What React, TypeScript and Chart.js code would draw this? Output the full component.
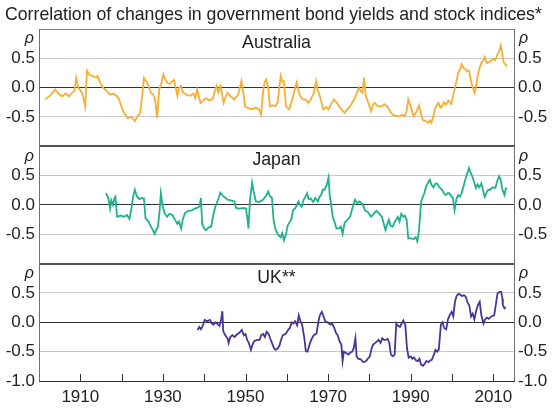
import React, { useEffect, useRef } from 'react';
import { Chart, registerables } from 'chart.js';

Chart.register(...registerables);

const TITLE = 'Correlation of changes in government bond yields and stock indices*';
const PANEL_NAMES = ['Australia', 'Japan', 'UK**'];
const X_LABEL_YEARS = [1910, 1930, 1950, 1970, 1990, 2010];
const X_TICK_YEARS = [1910, 1920, 1930, 1940, 1950, 1960, 1970, 1980, 1990, 2000, 2010];
const Y_TICKS = [-1, -0.5, 0, 0.5, 1];
const COLORS = ['#F9AE32', '#1DB28D', '#4A3595'];

const ausYears = [1901.5, 1902.6, 1903.9, 1904.7, 1905.6, 1906.5, 1907.3, 1907.7, 1908.6, 1909.0, 1909.5, 1909.9, 1910.5, 1911.2, 1911.6, 1912.2, 1912.9, 1913.8, 1914.2, 1914.8, 1915.5, 1916.3, 1917.2, 1918.1, 1918.9, 1919.4, 1920.2, 1920.8, 1921.5, 1922.4, 1923.2, 1923.9, 1924.5, 1924.9, 1925.4, 1925.8, 1926.2, 1927.1, 1927.7, 1928.1, 1928.6, 1929.1, 1929.7, 1930.1, 1930.5, 1931.0, 1931.6, 1932.3, 1932.7, 1933.1, 1933.5, 1933.9, 1934.4, 1934.8, 1935.7, 1936.6, 1937.4, 1937.8, 1938.3, 1938.7, 1939.1, 1939.7, 1940.4, 1941.3, 1942.1, 1942.6, 1943.0, 1943.4, 1943.9, 1944.3, 1944.7, 1945.2, 1945.6, 1946.4, 1947.3, 1948.2, 1949.0, 1949.5, 1949.9, 1950.7, 1951.6, 1952.5, 1953.3, 1953.8, 1954.2, 1954.6, 1955.0, 1955.5, 1955.9, 1956.6, 1957.2, 1957.8, 1958.5, 1958.9, 1959.3, 1959.8, 1960.6, 1961.5, 1962.4, 1962.8, 1963.2, 1963.8, 1964.5, 1965.2, 1965.8, 1966.5, 1967.1, 1967.5, 1967.9, 1968.8, 1969.5, 1970.1, 1970.7, 1971.4, 1972.1, 1972.7, 1973.3, 1974.0, 1974.6, 1975.3, 1975.9, 1976.5, 1977.0, 1977.4, 1977.8, 1978.3, 1978.7, 1979.1, 1979.7, 1980.4, 1980.8, 1981.3, 1982.1, 1983.0, 1983.6, 1984.3, 1985.0, 1985.6, 1986.4, 1987.3, 1987.9, 1988.6, 1989.0, 1989.4, 1989.9, 1990.7, 1991.3, 1992.0, 1992.5, 1992.9, 1993.6, 1994.2, 1994.6, 1995.0, 1995.5, 1995.9, 1996.3, 1996.7, 1997.2, 1997.6, 1998.0, 1998.5, 1999.1, 1999.8, 2000.2, 2000.6, 2001.1, 2001.5, 2001.9, 2002.3, 2002.7, 2003.2, 2003.6, 2004.1, 2004.5, 2004.9, 2005.5, 2006.0, 2006.2, 2006.6, 2007.1, 2007.5, 2007.9, 2008.4, 2008.8, 2009.4, 2010.1, 2010.5, 2010.9, 2011.4, 2011.8, 2012.1, 2012.5, 2012.9, 2013.3];
const ausValues = [-0.20, -0.14, -0.03, -0.10, -0.15, -0.10, -0.15, -0.11, -0.05, 0.17, 0.0, -0.03, -0.10, -0.32, 0.29, 0.22, 0.20, 0.17, 0.20, 0.08, 0.0, -0.05, -0.12, -0.10, -0.15, -0.20, -0.37, -0.45, -0.52, -0.50, -0.57, -0.48, -0.43, -0.20, 0.17, 0.12, 0.09, -0.09, -0.12, -0.20, -0.52, -0.03, 0.10, 0.23, 0.15, 0.09, 0.06, 0.11, 0.13, 0.0, -0.14, 0.0, 0.03, -0.08, -0.12, -0.14, -0.10, -0.18, -0.03, -0.15, -0.26, -0.22, -0.18, -0.22, -0.18, -0.05, 0.03, -0.08, 0.03, -0.10, -0.26, -0.15, -0.09, -0.15, -0.20, -0.12, 0.11, -0.10, -0.32, -0.35, -0.37, -0.34, -0.37, -0.46, -0.10, 0.09, 0.14, 0.0, -0.32, -0.30, -0.32, -0.25, 0.20, 0.10, 0.11, -0.32, -0.37, -0.15, 0.09, -0.05, -0.14, -0.20, -0.20, -0.26, -0.20, -0.10, 0.11, -0.05, -0.12, -0.37, -0.33, -0.37, -0.28, -0.20, -0.26, -0.32, -0.38, -0.43, -0.37, -0.32, -0.25, -0.17, -0.08, 0.0, -0.05, -0.09, 0.17, -0.14, -0.25, -0.40, -0.30, -0.26, -0.32, -0.32, -0.28, -0.32, -0.40, -0.46, -0.48, -0.49, -0.46, -0.48, -0.40, -0.20, -0.30, -0.49, -0.42, -0.30, -0.45, -0.55, -0.57, -0.60, -0.56, -0.60, -0.48, -0.35, -0.30, -0.26, -0.34, -0.32, -0.25, -0.29, -0.22, -0.28, -0.15, -0.03, 0.12, 0.26, 0.30, 0.40, 0.34, 0.32, 0.28, 0.29, 0.15, 0.03, -0.09, 0.10, 0.20, 0.32, 0.43, 0.45, 0.52, 0.42, 0.43, 0.46, 0.49, 0.47, 0.55, 0.62, 0.72, 0.60, 0.43, 0.40, 0.36];

const jpnYears = [1916.2, 1916.6, 1916.9, 1917.2, 1917.5, 1917.9, 1918.2, 1918.5, 1918.9, 1919.8, 1920.6, 1921.3, 1921.9, 1922.4, 1922.8, 1923.2, 1923.7, 1924.3, 1924.9, 1925.4, 1925.8, 1926.5, 1927.1, 1927.5, 1928.0, 1928.4, 1928.8, 1929.2, 1929.5, 1929.9, 1930.4, 1931.0, 1931.6, 1932.3, 1932.9, 1933.5, 1933.9, 1934.4, 1934.8, 1935.3, 1936.1, 1937.0, 1937.7, 1938.3, 1938.9, 1939.2, 1939.5, 1940.0, 1940.4, 1941.1, 1941.7, 1942.1, 1942.6, 1943.0, 1943.5, 1943.9, 1944.6, 1945.2, 1945.6, 1946.4, 1947.3, 1947.7, 1948.6, 1949.5, 1950.1, 1950.5, 1950.7, 1951.1, 1951.6, 1951.9, 1952.5, 1953.3, 1954.2, 1954.9, 1955.5, 1955.9, 1956.4, 1956.8, 1957.2, 1957.8, 1958.5, 1958.9, 1959.3, 1959.8, 1960.2, 1960.6, 1961.1, 1961.5, 1962.1, 1962.8, 1963.2, 1963.6, 1964.0, 1964.5, 1964.9, 1965.3, 1965.8, 1966.4, 1966.9, 1967.5, 1967.9, 1968.3, 1968.7, 1969.1, 1969.7, 1970.1, 1970.4, 1970.7, 1971.1, 1971.6, 1972.0, 1972.7, 1973.1, 1973.5, 1974.0, 1974.6, 1975.3, 1975.7, 1976.1, 1976.5, 1977.0, 1977.6, 1978.3, 1979.0, 1979.6, 1980.4, 1981.0, 1981.7, 1982.4, 1983.0, 1983.4, 1983.9, 1984.3, 1984.7, 1985.1, 1985.6, 1986.2, 1986.9, 1987.3, 1987.7, 1988.2, 1988.6, 1989.0, 1989.4, 1990.1, 1990.7, 1991.2, 1991.6, 1992.0, 1992.5, 1992.9, 1993.3, 1993.7, 1994.2, 1994.6, 1995.0, 1995.5, 1995.9, 1996.3, 1997.0, 1997.6, 1998.0, 1998.5, 1998.9, 1999.3, 1999.8, 2000.2, 2000.6, 2001.1, 2001.5, 2001.9, 2002.3, 2002.7, 2003.2, 2003.6, 2004.1, 2004.5, 2004.9, 2005.4, 2005.8, 2006.2, 2006.6, 2007.1, 2007.5, 2007.9, 2008.4, 2008.8, 2009.2, 2009.8, 2010.5, 2010.9, 2011.4, 2011.8, 2012.2, 2012.7, 2013.0, 2013.3];
const jpnValues = [0.20, 0.15, 0.08, -0.06, 0.08, 0.0, 0.10, 0.14, -0.20, -0.18, -0.20, -0.17, -0.24, -0.05, 0.15, 0.26, 0.15, 0.10, 0.12, 0.11, -0.23, -0.28, -0.37, -0.42, -0.49, -0.42, -0.37, -0.10, 0.20, 0.0, -0.14, -0.20, -0.15, -0.17, -0.25, -0.32, -0.28, -0.40, -0.25, -0.14, -0.10, -0.09, -0.06, -0.05, -0.02, 0.12, -0.32, -0.40, -0.43, -0.38, -0.37, -0.20, -0.05, 0.03, 0.12, 0.21, 0.15, 0.12, 0.09, 0.08, 0.06, -0.05, -0.06, -0.05, -0.06, -0.25, -0.40, 0.10, 0.38, 0.25, 0.06, 0.05, 0.09, 0.15, 0.23, 0.15, 0.12, -0.26, -0.40, -0.50, -0.55, -0.48, -0.60, -0.50, -0.35, -0.30, -0.24, -0.09, -0.05, 0.06, 0.0, -0.03, 0.08, 0.14, 0.20, 0.10, 0.11, 0.05, 0.12, 0.06, 0.14, 0.17, 0.26, 0.26, 0.35, 0.47, 0.15, 0.03, -0.20, -0.30, -0.40, -0.40, -0.37, -0.49, -0.30, -0.26, -0.20, -0.10, 0.0, 0.09, 0.03, 0.06, 0.02, -0.10, -0.12, -0.20, -0.15, -0.10, -0.15, -0.20, -0.30, -0.43, -0.33, -0.25, -0.35, -0.37, -0.28, -0.20, -0.28, -0.15, -0.20, -0.18, -0.25, -0.57, -0.57, -0.58, -0.55, -0.62, -0.43, 0.05, 0.14, 0.20, 0.32, 0.38, 0.43, 0.35, 0.30, 0.36, 0.37, 0.30, 0.26, 0.20, 0.17, 0.20, 0.20, 0.15, 0.12, -0.09, 0.12, 0.17, 0.14, 0.20, 0.30, 0.43, 0.52, 0.63, 0.55, 0.49, 0.38, 0.29, 0.35, 0.30, 0.37, 0.25, 0.14, 0.22, 0.26, 0.26, 0.30, 0.29, 0.40, 0.49, 0.42, 0.26, 0.17, 0.28, 0.27];

const ukYears = [1938.4, 1938.8, 1939.2, 1939.7, 1940.1, 1940.7, 1941.4, 1941.8, 1942.2, 1942.7, 1943.1, 1943.7, 1944.1, 1944.4, 1944.6, 1945.1, 1945.7, 1945.9, 1946.3, 1946.8, 1947.4, 1947.8, 1948.5, 1949.1, 1949.6, 1950.0, 1950.4, 1950.8, 1951.3, 1951.7, 1952.1, 1952.8, 1953.4, 1953.8, 1954.3, 1954.7, 1955.1, 1955.6, 1956.0, 1956.4, 1956.9, 1957.3, 1957.7, 1958.2, 1958.6, 1959.0, 1959.4, 1959.9, 1960.3, 1960.7, 1961.2, 1961.6, 1962.0, 1962.5, 1962.9, 1963.3, 1963.7, 1964.2, 1964.6, 1965.0, 1965.5, 1965.9, 1966.5, 1967.2, 1967.6, 1968.0, 1968.5, 1968.9, 1969.3, 1969.8, 1970.2, 1970.6, 1971.0, 1971.5, 1971.9, 1972.3, 1972.8, 1973.2, 1973.5, 1973.8, 1974.3, 1974.9, 1975.3, 1975.8, 1976.2, 1976.6, 1976.9, 1977.3, 1977.9, 1978.5, 1979.2, 1979.6, 1980.1, 1980.5, 1980.9, 1981.4, 1981.8, 1982.2, 1982.7, 1983.1, 1983.5, 1983.9, 1984.4, 1984.8, 1985.2, 1985.7, 1986.1, 1986.5, 1986.9, 1987.4, 1987.8, 1988.2, 1988.7, 1989.1, 1989.5, 1990.0, 1990.4, 1990.8, 1991.3, 1991.7, 1992.1, 1992.5, 1993.0, 1993.4, 1993.8, 1994.3, 1994.7, 1995.1, 1995.6, 1996.0, 1996.4, 1996.8, 1997.3, 1997.7, 1998.1, 1998.6, 1999.0, 1999.4, 1999.9, 2000.3, 2000.7, 2001.1, 2001.6, 2002.0, 2002.4, 2002.9, 2003.3, 2003.7, 2004.2, 2004.6, 2005.0, 2005.4, 2005.9, 2006.3, 2006.7, 2007.1, 2007.6, 2008.0, 2008.5, 2008.9, 2009.5, 2010.2, 2010.6, 2011.0, 2011.5, 2011.9, 2012.2, 2012.3, 2012.7, 2013.0];
const ukValues = [-0.13, -0.08, -0.12, -0.05, 0.04, 0.02, 0.04, -0.02, -0.04, 0.0, -0.02, -0.06, 0.05, 0.19, -0.15, -0.22, -0.28, -0.35, -0.25, -0.22, -0.25, -0.21, -0.18, -0.13, -0.22, -0.20, -0.30, -0.35, -0.47, -0.38, -0.32, -0.30, -0.30, -0.22, -0.20, -0.25, -0.16, -0.20, -0.28, -0.35, -0.44, -0.47, -0.45, -0.40, -0.30, -0.22, -0.21, -0.18, -0.13, -0.10, 0.0, -0.02, 0.02, -0.05, 0.12, 0.02, -0.04, -0.25, -0.49, -0.50, -0.38, -0.30, -0.22, -0.19, 0.0, 0.12, 0.18, 0.10, 0.02, 0.0, -0.02, -0.04, -0.02, -0.10, -0.18, -0.22, -0.33, -0.38, -0.66, -0.50, -0.52, -0.55, -0.52, -0.50, -0.44, -0.27, -0.58, -0.62, -0.63, -0.68, -0.66, -0.62, -0.58, -0.45, -0.38, -0.35, -0.33, -0.30, -0.35, -0.27, -0.30, -0.30, -0.28, -0.35, -0.55, -0.58, -0.55, -0.02, -0.06, -0.08, -0.02, 0.03, -0.05, -0.45, -0.60, -0.58, -0.62, -0.60, -0.65, -0.66, -0.62, -0.72, -0.74, -0.70, -0.66, -0.68, -0.65, -0.64, -0.55, -0.47, -0.50, -0.46, -0.04, 0.0, -0.10, -0.12, 0.05, 0.12, 0.18, 0.10, 0.35, 0.45, 0.49, 0.47, 0.45, 0.46, 0.44, 0.35, 0.28, 0.10, 0.15, 0.05, 0.21, 0.30, 0.35, 0.12, -0.02, 0.05, 0.08, 0.06, 0.10, 0.12, 0.30, 0.49, 0.52, 0.52, 0.40, 0.29, 0.24, 0.26];

const FONT = '"Liberation Sans", Arial, sans-serif';
const LEFT_IDS = ['yA', 'yJ', 'yU'];
const RIGHT_IDS = ['rA', 'rJ', 'rU'];

function pts(xs: number[], ys: number[]) {
  return xs.map((x, i) => ({ x, y: ys[i] }));
}

function makeY(panel: number, side: 'left' | 'right') {
  const isBottom = panel === 2;
  return {
    type: 'linear',
    position: side,
    stack: side,
    stackWeight: 1,
    weight: side === 'left' ? 3 - panel : panel + 1,
    min: -1,
    max: 1,
    afterBuildTicks: (s: any) => {
      s.ticks = Y_TICKS.map((v) => ({ value: v }));
    },
    afterFit: (s: any) => {
      s.width = side === 'left' ? 39 : 42;
    },
    ticks: {
      autoSkip: false,
      padding: 4,
      color: '#222',
      font: { family: FONT, size: 17 },
      callback: (v: number) => {
        if (v === 1) return '';
        if (v === -1 && !isBottom) return '';
        return v.toFixed(1);
      },
    },
    grid: side === 'left'
      ? {
          drawTicks: false,
          color: (c: any) => {
            const v = c.tick ? c.tick.value : null;
            if (v === 0) return '#333333';
            if (v === 0.5 || v === -0.5) return '#c8c8c8';
            if (v === 1) return panel === 0 ? '#808080' : '#555555';
            return 'rgba(0,0,0,0)';
          },
          lineWidth: (c: any) => {
            const v = c.tick ? c.tick.value : null;
            if (v === 1 && panel > 0) return 2;
            return 1;
          },
        }
      : { drawTicks: false, drawOnChartArea: false },
    border: { display: true, color: '#707070', width: 1 },
  };
}

const decor = {
  id: 'decor',
  afterDraw(chart: any) {
    const ctx = chart.ctx;
    const area = chart.chartArea;
    const xs = chart.scales.x;
    ctx.save();
    ctx.fillStyle = '#222';
    ctx.font = `17.7px ${FONT}`;
    ctx.textAlign = 'left';
    ctx.textBaseline = 'alphabetic';
    ctx.fillText(TITLE, 5, 20);
    ctx.strokeStyle = '#333';
    ctx.lineWidth = 1;
    X_TICK_YEARS.forEach((yr) => {
      const px = Math.round(xs.getPixelForValue(yr)) + 0.5;
      ctx.beginPath();
      ctx.moveTo(px, area.bottom);
      ctx.lineTo(px, area.bottom - 7);
      ctx.stroke();
    });
    LEFT_IDS.forEach((id, i) => {
      const s = chart.scales[id];
      const top = s.top;
      ctx.fillStyle = '#222';
      ctx.font = `italic 16px ${FONT}`;
      ctx.textBaseline = 'middle';
      ctx.textAlign = 'right';
      ctx.fillText('\u03c1', s.right - 5, top + 10);
      ctx.textAlign = 'left';
      ctx.fillText('\u03c1', area.right + 5, top + 10);
      ctx.font = `17.7px ${FONT}`;
      ctx.textAlign = 'center';
      ctx.fillText(PANEL_NAMES[i], (area.left + area.right) / 2, top + 14);
    });
    ctx.restore();
  },
};

export default function App() {
  const ref = useRef<HTMLCanvasElement | null>(null);
  useEffect(() => {
    if (!ref.current) return;
    const scales: any = {
      x: {
        type: 'linear',
        position: 'bottom',
        min: 1900,
        max: 2015,
        afterBuildTicks: (s: any) => {
          s.ticks = X_LABEL_YEARS.map((v) => ({ value: v }));
        },
        afterFit: (s: any) => {
          s.height = 27;
        },
        ticks: {
          autoSkip: false,
          maxRotation: 0,
          padding: 6,
          color: '#222',
          font: { family: FONT, size: 17 },
          callback: (v: number) => String(v),
        },
        grid: { drawOnChartArea: false, drawTicks: false },
        border: { display: true, color: '#333', width: 1 },
      },
    };
    LEFT_IDS.forEach((id, i) => (scales[id] = makeY(i, 'left')));
    RIGHT_IDS.forEach((id, i) => (scales[id] = makeY(i, 'right')));
    const series = [
      pts(ausYears, ausValues),
      pts(jpnYears, jpnValues),
      pts(ukYears, ukValues),
    ];
    const chart = new Chart(ref.current, {
      type: 'line',
      data: {
        datasets: series.map((d, i) => ({
          label: PANEL_NAMES[i],
          data: d,
          xAxisID: 'x',
          yAxisID: LEFT_IDS[i],
          borderColor: COLORS[i],
          backgroundColor: COLORS[i],
          borderWidth: 1.8,
          pointRadius: 0,
          tension: 0,
          fill: false,
        })),
      },
      options: {
        responsive: false,
        animation: false,
        devicePixelRatio: 1,
        layout: { padding: { top: 29, left: 0, right: 0, bottom: 0 } },
        plugins: {
          legend: { display: false },
          title: { display: false },
          tooltip: { enabled: false },
        },
        scales,
      },
      plugins: [decor],
    } as any);
    return () => chart.destroy();
  }, []);
  return (
    <div style={{ position: 'absolute', left: 0, top: 0, width: 556, height: 408, background: '#fff' }}>
      <canvas ref={ref} width={556} height={408} />
    </div>
  );
}
